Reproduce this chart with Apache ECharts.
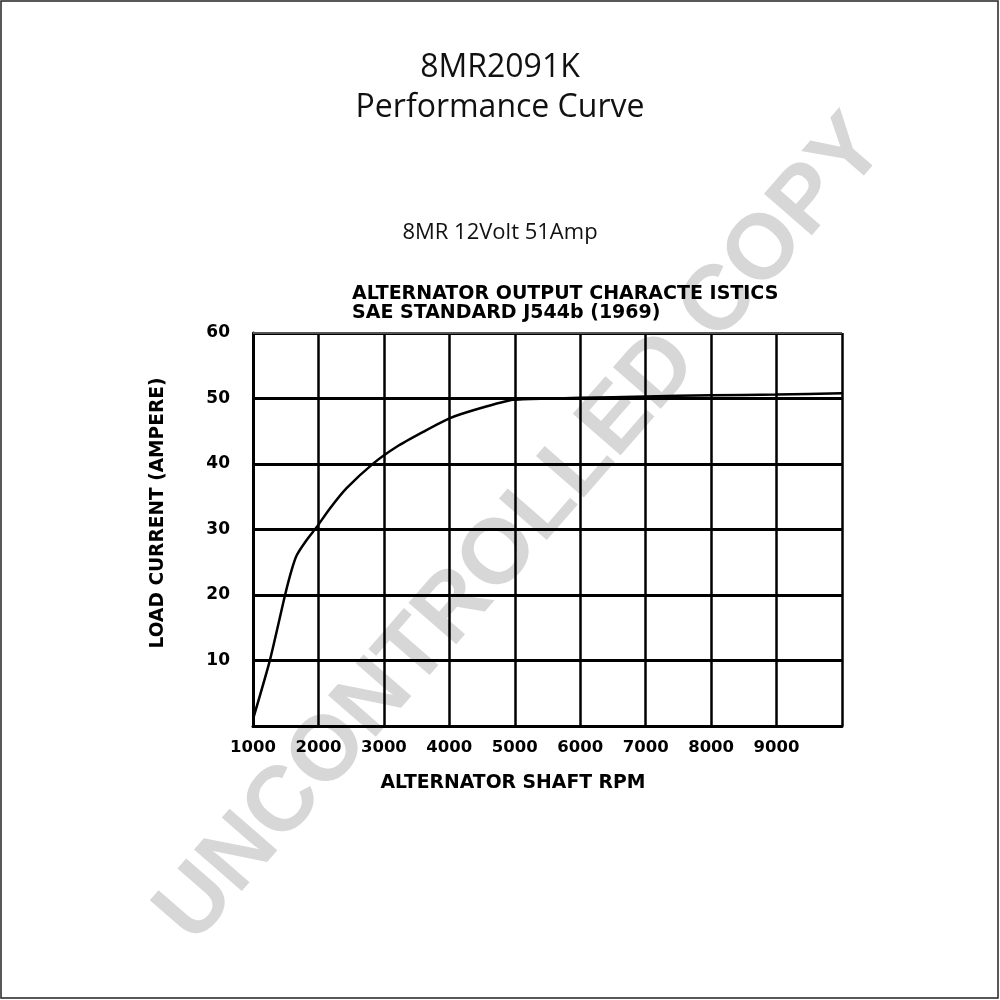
<!DOCTYPE html>
<html>
<head>
<meta charset="utf-8">
<script src="https://cdn.jsdelivr.net/npm/echarts@6/dist/echarts.min.js"></script>
<style>
html,body{margin:0;padding:0;background:#fff;}
#chart{width:1000px;height:1000px;}
</style>
</head>
<body>
<div id="chart"></div>
<script>
// Data
var rpm =     [1005, 1260, 1490, 1590, 1670, 1820, 1975, 2175, 2430, 2840, 3190, 3600, 4010, 4470, 4975, 5500, 6000, 7000, 8000, 9000, 10000];
var current = [1.2,  10.1, 20.0, 23.8, 26.1, 28.4, 30.4, 33.2, 36.3, 40.1, 42.6, 44.9, 47.0, 48.5, 49.8, 50.0, 50.1, 50.3, 50.5, 50.6, 50.8];
var xTicks = [1000, 2000, 3000, 4000, 5000, 6000, 7000, 8000, 9000];
var yTicks = [10, 20, 30, 40, 50, 60];

var chartFont = 'DejaVu Sans';
var titleFont = 'Open Sans';

var chart = echarts.init(document.getElementById('chart'));
var pts = rpm.map(function (r, i) { return [r, current[i]]; });

chart.setOption({
  backgroundColor: '#ffffff',
  animation: false,
  title: [
    {
      text: '8MR2091K\nPerformance Curve',
      left: 'center',
      top: 43,
      textStyle: { fontFamily: titleFont, fontWeight: 'normal', fontSize: 32, lineHeight: 40, color: '#111' }
    },
    {
      text: '8MR 12Volt 51Amp',
      left: 'center',
      top: 216,
      textStyle: { fontFamily: titleFont, fontWeight: 'normal', fontSize: 22, lineHeight: 24, color: '#111' }
    }
  ],
  grid: { left: 253, right: 158, top: 333, bottom: 274, containLabel: false },
  xAxis: {
    type: 'value',
    min: 1000,
    max: 10000,
    interval: 1000,
    axisLine: { show: true, lineStyle: { color: '#000', width: 3 } },
    axisTick: { show: false },
    axisLabel: {
      margin: 13,
      fontFamily: chartFont,
      fontWeight: 'bold',
      fontSize: 16.5,
      color: '#000',
      formatter: function (v) { return xTicks.indexOf(v) >= 0 ? String(v) : ''; }
    },
    splitLine: { show: true, lineStyle: { color: '#000', width: 2.5 } }
  },
  yAxis: {
    type: 'value',
    min: 0,
    max: 60,
    interval: 10,
    axisLine: { show: true, lineStyle: { color: '#000', width: 3 } },
    axisTick: { show: false },
    axisLabel: {
      margin: 23,
      fontFamily: chartFont,
      fontWeight: 'bold',
      fontSize: 17,
      color: '#000',
      formatter: function (v) { return yTicks.indexOf(v) >= 0 ? String(v) : ''; }
    },
    splitLine: { show: true, lineStyle: { color: '#000', width: 3 } }
  },
  series: [{
    type: 'line',
    data: pts,
    smooth: 0.2,
    symbol: 'none',
    lineStyle: { color: '#000', width: 2.5 },
    z: 5
  }],
  graphic: {
    elements: [
      {
        type: 'text', z: -10, x: 522, y: 530, rotation: 49 * Math.PI / 180,
        style: { text: 'UNCONTROLLED COPY', fontFamily: 'Liberation Sans', fontWeight: 'bold', fontSize: 92,
                 fill: '#d7d7d7', align: 'center', verticalAlign: 'middle' }
      },
      {
        type: 'line', z: 6, shape: { x1: 253, y1: 333, x2: 842, y2: 333 },
        style: { stroke: '#555', lineWidth: 2 }
      },
      {
        type: 'text', z: 10, x: 352, y: 294,
        style: { text: 'ALTERNATOR OUTPUT CHARACTE ISTICS', fontFamily: chartFont, fontWeight: 'bold', fontSize: 19,
                 fill: '#000', align: 'left', verticalAlign: 'middle' }
      },
      {
        type: 'text', z: 10, x: 352, y: 313,
        style: { text: 'SAE STANDARD J544b (1969)', fontFamily: chartFont, fontWeight: 'bold', fontSize: 19,
                 fill: '#000', align: 'left', verticalAlign: 'middle' }
      },
      {
        type: 'text', z: 10, x: 513, y: 783,
        style: { text: 'ALTERNATOR SHAFT RPM', fontFamily: chartFont, fontWeight: 'bold', fontSize: 18.8,
                 fill: '#000', align: 'center', verticalAlign: 'middle' }
      },
      {
        type: 'text', z: 10, x: 158, y: 513, rotation: Math.PI / 2,
        style: { text: 'LOAD CURRENT (AMPERE)', fontFamily: chartFont, fontWeight: 'bold', fontSize: 18.6,
                 fill: '#000', align: 'center', verticalAlign: 'middle' }
      },
      {
        type: 'rect', z: 20, shape: { x: 1, y: 1, width: 997, height: 997 },
        style: { fill: 'none', stroke: '#222', lineWidth: 1.5 }
      }
    ]
  }
});
</script>
</body>
</html>
